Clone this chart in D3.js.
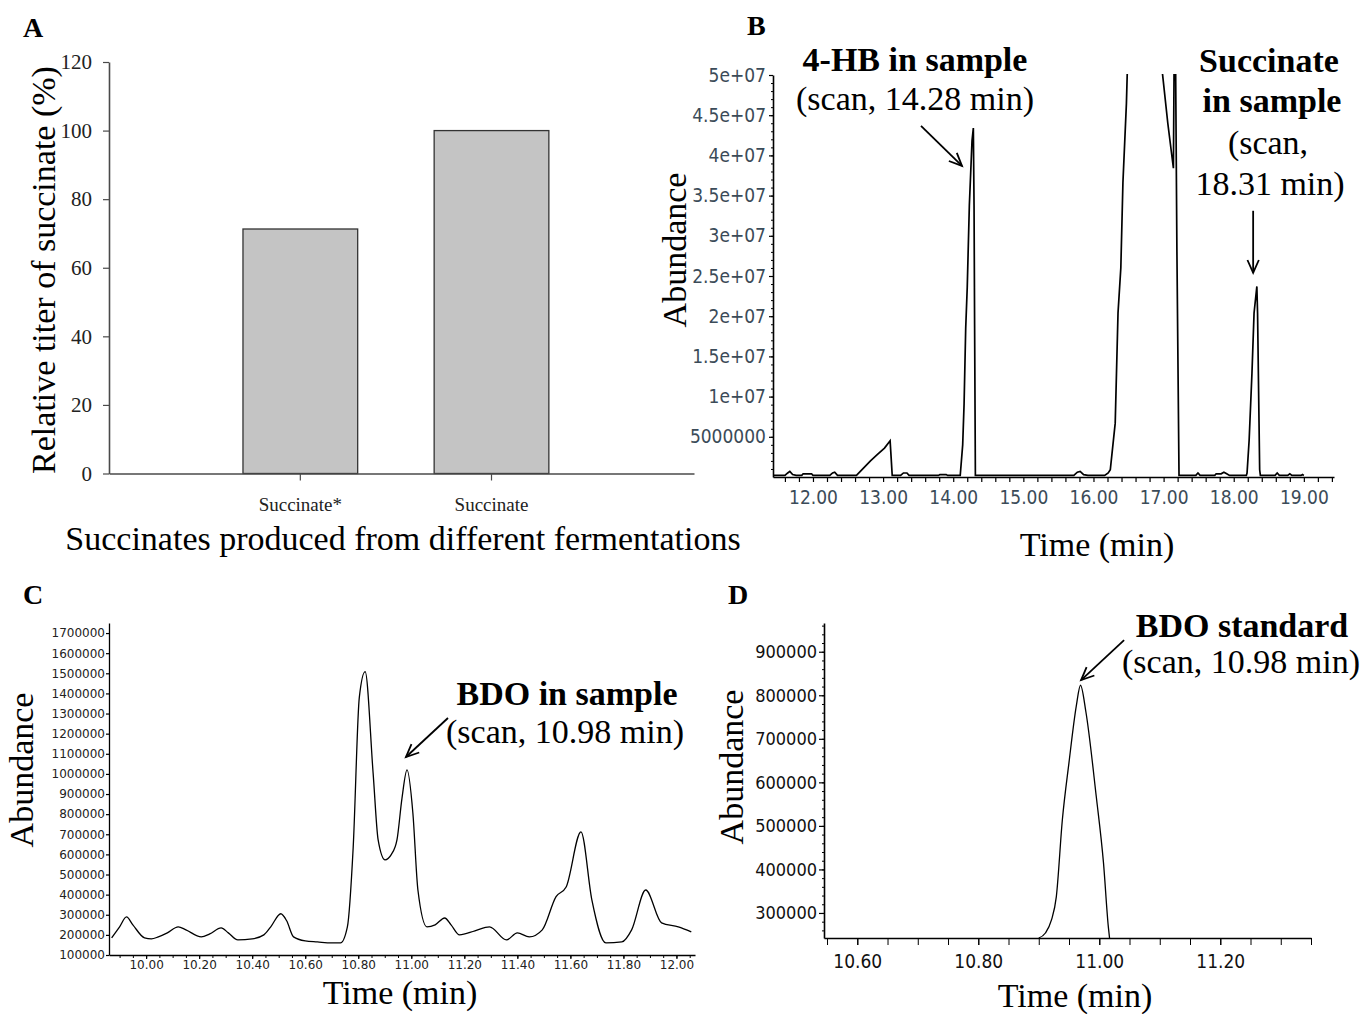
<!DOCTYPE html>
<html>
<head>
<meta charset="utf-8">
<script src="https://cdn.jsdelivr.net/npm/d3@7"></script>
<style>
  body { margin: 0; background: #fff; }
  svg { display: block; }
</style>
</head>
<body>
<svg id="fig" width="1364" height="1014"></svg>
<script>
// ---------- Panel A: relative succinate titer ----------
const titerCategories = ["Succinate*", "Succinate"];
const titerValues = [71.3, 100];
const titerTicks = [0, 20, 40, 60, 80, 100, 120];

// ---------- Panel B: full-scan chromatogram of the sample ----------
const scanTime = [
  11.44, 11.60, 11.64, 11.67, 11.71, 11.76, 11.84, 11.86, 11.98, 12.00,
  12.24, 12.28, 12.31, 12.35, 12.62, 12.72, 12.82, 12.92, 13.02, 13.10,
  13.11, 13.13, 13.25, 13.29, 13.34, 13.37, 13.79, 13.81, 13.90, 13.92,
  14.10, 14.135, 14.155, 14.178, 14.20, 14.23, 14.268, 14.287, 14.297, 14.305,
  14.316, 15.72, 15.77, 15.81, 15.86, 15.92, 16.16, 16.21, 16.24, 16.31,
  16.35, 16.39, 16.42, 16.47, 16.50, 16.75, 16.98, 17.06, 17.14, 17.16,
  17.19, 17.22, 17.46, 17.49, 17.52, 17.73, 17.75, 17.82, 17.86, 17.90,
  17.94, 18.18, 18.19, 18.22, 18.26, 18.29, 18.33, 18.34, 18.37, 18.38,
  18.59, 18.62, 18.65, 18.77, 18.80, 18.83, 18.96, 18.98, 19.00
];
const scanAbundance = [
  2e5, 2e5, 5e5, 7e5, 3e5, 2e5, 2e5, 4e5, 4e5, 2e5,
  2e5, 5e5, 6e5, 2e5, 2e5, 1.1e6, 2.0e6, 2.8e6, 3.6e6, 4.5e6,
  3.1e6, 2e5, 2e5, 5e5, 5e5, 2e5, 2e5, 3e5, 3e5, 2e5,
  2e5, 4.0e6, 9.1e6, 1.85e7, 2.36e7, 3.38e7, 4.18e7, 4.34e7, 3.38e7, 1.89e7,
  2e5, 2e5, 6e5, 7e5, 3e5, 2e5, 2e5, 5e5, 9e5, 6.7e6,
  2.04e7, 2.6e7, 3.66e7, 4.65e7, 5.6e7, 9.0e7, 5.05e7, 4.4e7, 3.84e7, 6.5e7,
  2.8e7, 2e5, 2e5, 5e5, 2e5, 2e5, 4e5, 4e5, 6e5, 4e5,
  2e5, 2e5, 5e5, 4.6e6, 1.29e7, 2.04e7, 2.37e7, 2.04e7, 9e5, 2e5,
  2e5, 5e5, 2e5, 2e5, 4e5, 2e5, 2e5, 3e5, 2e5
];
const scanYTicks = [5e6, 1e7, 1.5e7, 2e7, 2.5e7, 3e7, 3.5e7, 4e7, 4.5e7, 5e7];
const scanYLabels = ["5000000", "1e+07", "1.5e+07", "2e+07", "2.5e+07",
                     "3e+07", "3.5e+07", "4e+07", "4.5e+07", "5e+07"];
const scanXTicks = [12, 13, 14, 15, 16, 17, 18, 19];
const scanXLabels = ["12.00", "13.00", "14.00", "15.00", "16.00", "17.00", "18.00", "19.00"];

// ---------- Panel C: BDO region of the sample ----------
const sampleTime = [
  9.87, 9.90, 9.926, 9.95, 9.994, 10.02, 10.046, 10.08, 10.121, 10.15,
  10.208, 10.24, 10.283, 10.31, 10.346, 10.40, 10.444, 10.47, 10.508, 10.53,
  10.556, 10.60, 10.646, 10.70, 10.733, 10.759, 10.781, 10.804, 10.826, 10.856,
  10.875, 10.901, 10.925, 10.946, 10.965, 10.984, 11.006, 11.025, 11.059, 11.09,
  11.126, 11.15, 11.182, 11.24, 11.295, 11.359, 11.40, 11.445, 11.494, 11.546,
  11.584, 11.64, 11.681, 11.734, 11.794, 11.831, 11.884, 11.944, 12.007, 12.056
];
const sampleAbundance = [
  185000, 240000, 289000, 250000, 185000, 180000, 190000, 210000, 240000, 225000,
  190000, 205000, 235000, 210000, 175000, 180000, 200000, 240000, 305000, 270000,
  190000, 170000, 165000, 160000, 160000, 240000, 637000, 1380000, 1508000, 1005000,
  672000, 573000, 600000, 672000, 880000, 1020000, 806000, 423000, 240000, 250000,
  284000, 250000, 200000, 220000, 240000, 175000, 210000, 190000, 225000, 390000,
  438000, 712000, 374000, 160000, 165000, 225000, 423000, 260000, 240000, 215000
];
const sampleYTicks = [100000, 200000, 300000, 400000, 500000, 600000, 700000, 800000, 900000,
                      1000000, 1100000, 1200000, 1300000, 1400000, 1500000, 1600000, 1700000];
const sampleXTicks = [10.0, 10.2, 10.4, 10.6, 10.8, 11.0, 11.2, 11.4, 11.6, 11.8, 12.0];
const sampleXLabels = ["10.00", "10.20", "10.40", "10.60", "10.80", "11.00",
                       "11.20", "11.40", "11.60", "11.80", "12.00"];

// ---------- Panel D: BDO standard ----------
const standardTime = [10.90, 10.911, 10.921, 10.929, 10.939, 10.950, 10.962, 10.969,
                      10.978, 10.995, 11.007, 11.015, 11.017];
const standardAbundance = [242500, 254000, 284000, 337000, 514000, 646000, 775000, 823000,
                           761000, 568000, 415000, 268000, 242500];
const standardYTicks = [300000, 400000, 500000, 600000, 700000, 800000, 900000];
const standardXTicks = [10.6, 10.8, 11.0, 11.2];
const standardXLabels = ["10.60", "10.80", "11.00", "11.20"];

// ---------- shared helpers ----------
const svg = d3.select("#fig");
const serif = '"Liberation Serif", "Times New Roman", serif';
const narrow = '"DejaVu Sans Condensed", "DejaVu Sans", sans-serif';
const plain = '"DejaVu Sans", sans-serif';

function label(x, y, str, opt = {}) {
  const t = svg.append("text")
    .attr("font-family", opt.family || serif)
    .attr("font-size", opt.size || 34)
    .attr("font-weight", opt.weight || "normal")
    .attr("text-anchor", opt.anchor || "middle")
    .attr("fill", opt.fill || "#000")
    .text(str);
  if (opt.rotate) t.attr("transform", `translate(${x},${y}) rotate(-90)`);
  else t.attr("x", x).attr("y", y);
  return t;
}

function arrow(tipX, tipY, dx, dy) {
  const tailX = tipX + dx, tailY = tipY + dy;
  const ang = Math.atan2(tipY - tailY, tipX - tailX);
  const L = 14, a = Math.PI / 7.5;
  const g = svg.append("g").attr("stroke", "#000").attr("stroke-width", 1.8).attr("fill", "none");
  g.append("line").attr("x1", tailX).attr("y1", tailY).attr("x2", tipX).attr("y2", tipY);
  g.append("path").attr("d",
    `M${tipX - L * Math.cos(ang - a)},${tipY - L * Math.sin(ang - a)}` +
    `L${tipX},${tipY}` +
    `L${tipX - L * Math.cos(ang + a)},${tipY - L * Math.sin(ang + a)}`);
}

function styleAxis(g, o) {
  g.attr("font-family", o.family).attr("font-size", o.size);
  g.select(".domain").attr("stroke", o.color || "#000").attr("stroke-width", o.width || 1.4);
  g.selectAll(".tick line").attr("stroke", o.color || "#000").attr("stroke-width", o.tickWidth || 1.2);
  g.selectAll(".tick text").attr("fill", o.textColor || "#000")
    .style("font-stretch", o.stretch || "normal");
}

function minorTicks(axisFn, scale, values, size, transform) {
  const g = svg.append("g").attr("transform", transform)
    .call(axisFn(scale).tickValues(values).tickSize(size).tickFormat(""));
  g.select(".domain").remove();
  g.selectAll(".tick line").attr("stroke", "#000").attr("stroke-width", 1);
}

// ---------- Panel A ----------
{
  const x = d3.scaleBand().domain(titerCategories).range([109, 694])
    .paddingInner(0.4).paddingOuter(0.73).align(0.48);
  const y = d3.scaleLinear().domain([0, 120]).range([473.5, 62]);

  svg.append("g").selectAll("rect").data(titerCategories).join("rect")
    .attr("x", d => x(d))
    .attr("y", (d, i) => y(titerValues[i]))
    .attr("width", x.bandwidth())
    .attr("height", (d, i) => y(0) - y(titerValues[i]))
    .attr("fill", "#c4c4c4")
    .attr("stroke", "#333")
    .attr("stroke-width", 1.3);

  const ya = svg.append("g").attr("transform", "translate(109,0)")
    .call(d3.axisLeft(y).tickValues(titerTicks).tickSize(6).tickPadding(11).tickSizeOuter(0));
  styleAxis(ya, { family: serif, size: 21, color: "#4a4a4a", textColor: "#222", width: 1.6 });

  const xa = svg.append("g").attr("transform", `translate(0,${y(0)})`)
    .call(d3.axisBottom(x).tickSize(7).tickPadding(17).tickSizeOuter(0));
  styleAxis(xa, { family: serif, size: 19, color: "#4a4a4a", textColor: "#222", width: 1.6 });

  label(55, 270, "Relative titer of succinate (%)", { size: 34, rotate: true });
  label(403, 550, "Succinates produced from different fermentations", { size: 34 });
  label(23, 37, "A", { size: 28, weight: "bold", anchor: "start" });
}

// ---------- Panel B ----------
{
  const x = d3.scaleLinear().domain([11.43, 19.43]).range([773, 1334]);
  const y = d3.scaleLinear().domain([0, 5e7]).range([477, 75]);

  svg.append("clipPath").attr("id", "clipB")
    .append("rect").attr("x", 773).attr("y", 74).attr("width", 561).attr("height", 406);

  minorTicks(d3.axisLeft, y, d3.range(1e6, 5e7, 1e6), 2, "translate(773,0)");
  const ya = svg.append("g").attr("transform", "translate(773,0)")
    .call(d3.axisLeft(y).tickValues(scanYTicks).tickSize(4).tickPadding(3).tickSizeOuter(0)
      .tickFormat((d, i) => scanYLabels[i]));
  styleAxis(ya, { family: narrow, size: 19, textColor: "#3b4b58", stretch: "condensed", width: 1.6 });

  const xa = svg.append("g").attr("transform", "translate(0,477)")
    .call(d3.axisBottom(x).tickValues(d3.range(11.6, 19.41, 0.2)).tickSize(5).tickPadding(9)
      .tickSizeOuter(0)
      .tickFormat(d => {
        const i = scanXTicks.findIndex(v => Math.abs(v - d) < 1e-6);
        return i >= 0 ? scanXLabels[i] : "";
      }));
  styleAxis(xa, { family: narrow, size: 19, textColor: "#3b4b58", stretch: "condensed", width: 1.6 });

  const line = d3.line().x(d => x(d[0])).y(d => y(d[1]));
  svg.append("path")
    .datum(scanTime.map((t, i) => [t, scanAbundance[i]]))
    .attr("clip-path", "url(#clipB)")
    .attr("d", line)
    .attr("fill", "none").attr("stroke", "#000").attr("stroke-width", 1.7)
    .attr("stroke-linejoin", "miter");

  label(686, 250, "Abundance", { size: 34, rotate: true });
  label(1097, 556, "Time (min)", { size: 34 });
  label(747, 35, "B", { size: 28, weight: "bold", anchor: "start" });

  label(915, 71, "4-HB in sample", { size: 34, weight: "bold" });
  label(915, 110, "(scan, 14.28 min)", { size: 34 });
  arrow(x(14.125), y(3.87e7), -41, -40);

  label(1269, 72, "Succinate", { size: 34, weight: "bold" });
  label(1272, 112, "in sample", { size: 34, weight: "bold" });
  label(1268, 154, "(scan,", { size: 34 });
  label(1270, 195, "18.31 min)", { size: 34 });
  arrow(x(18.277), y(2.54e7), 0, -62);
}

// ---------- Panel C ----------
{
  const x = d3.scaleLinear().domain([9.86, 12.07]).range([109, 695]);
  const y = d3.scaleLinear().domain([100000, 1750000]).range([955, 623]);

  const ya = svg.append("g").attr("transform", "translate(109,0)")
    .call(d3.axisLeft(y).tickValues(sampleYTicks).tickSize(3).tickPadding(1).tickSizeOuter(0)
      .tickFormat(d3.format("d")));
  styleAxis(ya, { family: plain, size: 12, textColor: "#222", width: 1.3 });

  minorTicks(d3.axisBottom, x, d3.range(9.9, 12.06, 0.05), 3, "translate(0,955)");
  const xa = svg.append("g").attr("transform", "translate(0,955)")
    .call(d3.axisBottom(x).tickValues(sampleXTicks).tickSize(4).tickPadding(1).tickSizeOuter(0)
      .tickFormat((d, i) => sampleXLabels[i]));
  styleAxis(xa, { family: plain, size: 12, textColor: "#222", width: 1.3 });

  const line = d3.line().x(d => x(d[0])).y(d => y(d[1])).curve(d3.curveMonotoneX);
  svg.append("path")
    .datum(sampleTime.map((t, i) => [t, sampleAbundance[i]]))
    .attr("d", line)
    .attr("fill", "none").attr("stroke", "#000").attr("stroke-width", 1.3);

  label(33, 770, "Abundance", { size: 34, rotate: true });
  label(400, 1004, "Time (min)", { size: 34 });
  label(23, 604, "C", { size: 28, weight: "bold", anchor: "start" });

  label(567, 705, "BDO in sample", { size: 34, weight: "bold" });
  label(565, 743, "(scan, 10.98 min)", { size: 34 });
  arrow(x(10.98), y(1084000), 42, -39);
}

// ---------- Panel D ----------
{
  const x = d3.scaleLinear().domain([10.545, 11.35]).range([824, 1311]);
  const y = d3.scaleLinear().domain([242500, 966000]).range([938, 623]);

  minorTicks(d3.axisLeft, y, d3.range(260000, 966000, 20000), 2, "translate(824,0)");
  const ya = svg.append("g").attr("transform", "translate(824,0)")
    .call(d3.axisLeft(y).tickValues(standardYTicks).tickSize(5).tickPadding(2).tickSizeOuter(0)
      .tickFormat(d3.format("d")));
  styleAxis(ya, { family: narrow, size: 18, textColor: "#111", stretch: "condensed", width: 1.6 });

  minorTicks(d3.axisBottom, x, d3.range(10.55, 11.351, 0.05), 7, "translate(0,938)");
  const xa = svg.append("g").attr("transform", "translate(0,938)")
    .call(d3.axisBottom(x).tickValues(standardXTicks).tickSize(7).tickPadding(10).tickSizeOuter(0)
      .tickFormat((d, i) => standardXLabels[i]));
  styleAxis(xa, { family: narrow, size: 19, textColor: "#111", stretch: "condensed", width: 1.6 });

  const line = d3.line().x(d => x(d[0])).y(d => y(d[1])).curve(d3.curveMonotoneX);
  svg.append("path")
    .datum(standardTime.map((t, i) => [t, standardAbundance[i]]))
    .attr("d", line)
    .attr("fill", "none").attr("stroke", "#000").attr("stroke-width", 1.3);

  label(743, 767, "Abundance", { size: 34, rotate: true });
  label(1075, 1007, "Time (min)", { size: 34 });
  label(728, 604, "D", { size: 28, weight: "bold", anchor: "start" });

  label(1242, 637, "BDO standard", { size: 34, weight: "bold" });
  label(1241, 673, "(scan, 10.98 min)", { size: 34 });
  arrow(x(10.97), y(835000), 43, -40);
}
</script>
</body>
</html>
